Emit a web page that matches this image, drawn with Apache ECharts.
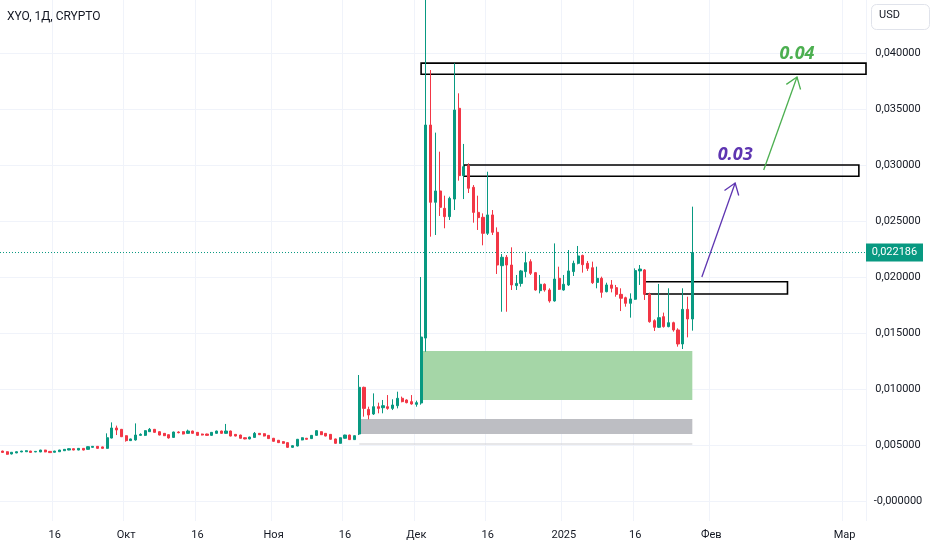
<!DOCTYPE html>
<html><head><meta charset="utf-8">
<script src="https://cdn.jsdelivr.net/npm/echarts@6/dist/echarts.min.js"></script>
<style>html,body{margin:0;padding:0;background:#fff}#c{width:932px;height:550px}</style>
</head><body><div id="c"></div>
<script>
// ---- categories / ticks ----
const startDate = [2024, 8, 5];   // 5 Sep 2024 (month 0-based)
const dayCount = 182;
const monthNames = ['Янв','Фев','Мар','Апр','Май','Июн','Июл','Авг','Сен','Окт','Ноя','Дек'];
const hiddenTickDates = ['2025-02-16'];
const priceMin = -0.005, priceMax = 0.045, priceStep = 0.005;

// ---- candles: [open, close, low, high] ----
const sepCandles = [
 [0.00446,0.00434,0.00430,0.00449],[0.00440,0.00417,0.00413,0.00443],[0.00420,0.00435,0.00416,0.00437],
 [0.00429,0.00440,0.00427,0.00442],[0.00438,0.00446,0.00436,0.00448],[0.00440,0.00449,0.00438,0.00452],
 [0.00446,0.00434,0.00432,0.00448],[0.00438,0.00443,0.00436,0.00445],[0.00438,0.00455,0.00436,0.00457],
 [0.00455,0.00438,0.00436,0.00457],[0.00443,0.00432,0.00430,0.00446],[0.00435,0.00446,0.00433,0.00448],
 [0.00440,0.00455,0.00438,0.00457],[0.00449,0.00461,0.00447,0.00464],[0.00455,0.00467,0.00453,0.00470],
 [0.00467,0.00455,0.00453,0.00470],[0.00455,0.00470,0.00453,0.00473],[0.00470,0.00455,0.00452,0.00472],
 [0.00461,0.00485,0.00459,0.00488],[0.00479,0.00488,0.00476,0.00491],[0.00488,0.00470,0.00467,0.00491],
 [0.00483,0.00470,0.00467,0.00486],[0.00470,0.00565,0.00467,0.00604],[0.00562,0.00652,0.00559,0.00702],
 [0.00652,0.00634,0.00589,0.00673],[0.00640,0.00574,0.00571,0.00643]
];
const octCandles = [
 [0.00583,0.00539,0.00530,0.00586],[0.00539,0.00554,0.00536,0.00557],[0.00545,0.00589,0.00539,0.00693],
 [0.00586,0.00595,0.00583,0.00604],[0.00586,0.00628,0.00580,0.00631],[0.00619,0.00640,0.00616,0.00652],
 [0.00640,0.00613,0.00610,0.00643],[0.00619,0.00589,0.00586,0.00622],[0.00604,0.00583,0.00580,0.00607],
 [0.00592,0.00563,0.00557,0.00595],[0.00568,0.00616,0.00565,0.00619],[0.00616,0.00610,0.00604,0.00622],
 [0.00619,0.00598,0.00595,0.00622],[0.00604,0.00625,0.00601,0.00637],[0.00625,0.00604,0.00601,0.00628],
 [0.00613,0.00586,0.00583,0.00616],[0.00598,0.00589,0.00586,0.00601],[0.00598,0.00586,0.00583,0.00601],
 [0.00586,0.00613,0.00583,0.00616],[0.00604,0.00625,0.00601,0.00628],[0.00625,0.00604,0.00601,0.00628],
 [0.00604,0.00625,0.00601,0.00688],[0.00625,0.00580,0.00577,0.00628],[0.00595,0.00580,0.00577,0.00598],
 [0.00589,0.00560,0.00557,0.00592],[0.00565,0.00554,0.00551,0.00568],[0.00554,0.00571,0.00551,0.00574],
 [0.00568,0.00604,0.00565,0.00616],[0.00604,0.00592,0.00589,0.00607],[0.00601,0.00580,0.00577,0.00604],
 [0.00586,0.00557,0.00554,0.00589]
];
const novCandles = [
 [0.00560,0.00533,0.00530,0.00563],[0.00542,0.00521,0.00518,0.00545],[0.00530,0.00515,0.00512,0.00533],
 [0.00521,0.00479,0.00476,0.00524],[0.00479,0.00494,0.00476,0.00497],[0.00491,0.00551,0.00488,0.00554],
 [0.00545,0.00565,0.00542,0.00568],[0.00560,0.00551,0.00548,0.00563],[0.00557,0.00586,0.00554,0.00589],
 [0.00586,0.00628,0.00583,0.00631],[0.00619,0.00592,0.00589,0.00622],[0.00604,0.00580,0.00577,0.00607],
 [0.00595,0.00551,0.00548,0.00598],[0.00554,0.00515,0.00512,0.00557],[0.00515,0.00565,0.00512,0.00568],
 [0.00560,0.00589,0.00557,0.00592],[0.00589,0.00548,0.00545,0.00592],[0.00548,0.00583,0.00545,0.00586],
 [0.00598,0.01015,0.00589,0.01125],[0.01015,0.00827,0.00753,0.01021],[0.00818,0.00768,0.00729,0.00842],
 [0.00777,0.00842,0.00768,0.00961],[0.00842,0.00827,0.00783,0.00878],[0.00833,0.00851,0.00783,0.00902],
 [0.00842,0.00827,0.00815,0.00946],[0.00827,0.00857,0.00812,0.00908],[0.00851,0.00917,0.00827,0.00976],
 [0.00917,0.00887,0.00881,0.00932],[0.00902,0.00878,0.00872,0.00908],[0.00887,0.00866,0.00860,0.00946]
];
const decCandles = [
 [0.00863,0.00878,0.00842,0.00896],[0.00875,0.01464,0.00860,0.02000],[0.01455,0.03357,0.01333,0.04700],
 [0.03357,0.02667,0.02360,0.03848],[0.02667,0.02768,0.02375,0.03289],[0.02768,0.02622,0.02545,0.03119],
 [0.02613,0.02539,0.02435,0.02726],[0.02539,0.02702,0.02509,0.02717],[0.02696,0.03491,0.02598,0.03908],
 [0.03506,0.02905,0.02860,0.03640],[0.02905,0.02985,0.02696,0.03188],[0.02994,0.02792,0.02750,0.03015],
 [0.02801,0.02577,0.02485,0.02821],[0.02577,0.02530,0.02420,0.02726],[0.02533,0.02390,0.02283,0.02568],
 [0.02390,0.02554,0.02375,0.02940],[0.02554,0.02399,0.02375,0.02598],[0.02399,0.02107,0.02027,0.02443],
 [0.02101,0.02176,0.01690,0.02205],[0.02176,0.02107,0.01690,0.02196],[0.02107,0.01929,0.01884,0.02265],
 [0.01923,0.01943,0.01884,0.02018],[0.01943,0.02054,0.01914,0.02063],[0.02048,0.02128,0.01997,0.02226],
 [0.02137,0.02033,0.02018,0.02158],[0.02039,0.01884,0.01878,0.02045],[0.01878,0.01935,0.01854,0.02018],
 [0.01935,0.01884,0.01869,0.01943],[0.01884,0.01786,0.01771,0.01899],[0.01786,0.01982,0.01780,0.02300],
 [0.01988,0.01890,0.01884,0.02092]
];
const janCandles = [
 [0.01884,0.01935,0.01878,0.02018],[0.01929,0.02054,0.01920,0.02241],[0.02048,0.02122,0.02009,0.02146],
 [0.02122,0.02188,0.02113,0.02277],[0.02193,0.02110,0.02039,0.02199],[0.02122,0.02077,0.02054,0.02143],
 [0.02083,0.01949,0.01938,0.02137],[0.01952,0.01988,0.01899,0.02092],[0.01988,0.01863,0.01815,0.02003],
 [0.01869,0.01929,0.01863,0.01949],[0.01929,0.01899,0.01863,0.01973],[0.01905,0.01845,0.01824,0.01929],
 [0.01845,0.01810,0.01696,0.01899],[0.01815,0.01765,0.01735,0.01824],[0.01765,0.01804,0.01637,0.01854],
 [0.01801,0.02057,0.01795,0.02077],[0.02054,0.02071,0.01929,0.02107],[0.02063,0.01845,0.01795,0.02071],
 [0.01848,0.01601,0.01592,0.01860],[0.01610,0.01551,0.01518,0.01622],[0.01551,0.01637,0.01545,0.01938],
 [0.01646,0.01557,0.01548,0.01682],[0.01557,0.01592,0.01551,0.01899],[0.01592,0.01527,0.01512,0.01601],
 [0.01527,0.01402,0.01378,0.01542],[0.01402,0.01711,0.01357,0.01899],[0.01711,0.01625,0.01461,0.01824],
 [0.01625,0.022186,0.01521,0.02628]
];
const lastPrice = 0.022186;

// ---- drawings (data space): [fromDate, toDate|null(=edge), low, high] ----
const demandZones = [['2024-12-02','2025-01-28',0.00902,0.01339]];
const baseZones   = [['2024-11-19','2025-01-28',0.00598,0.00732]];
const supportLines = [['2024-11-19','2025-01-28',0.00509]];
const targetBoxes = [
 ['2024-12-02', null, 0.0381, 0.0391],
 ['2024-12-11','2025-03-04',0.0290,0.0300],
 ['2025-01-18','2025-02-17',0.01848,0.01958]
];
const arrowsPurple = [[['2025-01-30',0.0200],['2025-02-06',0.02839]]];
const arrowsGreen  = [[['2025-02-12',0.02955],['2025-02-19',0.03786]]];
const targetLabels = [['2025-02-06',0.03089,'0.03'],['2025-02-19',0.03996,'0.04']];

// ---- build ----
const categories = [];
for (let i = 0; i < dayCount; i++) {
  const d = new Date(Date.UTC(startDate[0], startDate[1], startDate[2] + i));
  categories.push(d.toISOString().slice(0, 10));
}
const candles = [].concat(sepCandles, octCandles, novCandles, decCandles, janCandles);
const ci = d => categories.indexOf(d);
const fmtPrice = v => v.toFixed(6).replace('.', ',');

const UP = '#089981', DOWN = '#F23645', TXT = '#131722';
const PURPLE = '#5e35b1', GREEN = '#4caf50';

const showTick = (idx, val) => {
  const dd = val.slice(8);
  return (dd === '01' || dd === '16') && hiddenTickDates.indexOf(val) < 0;
};
const tickLabel = val => {
  const p = val.split('-');
  if (p[2] === '16') return '16';
  if (p[1] === '01') return p[0];
  return monthNames[+p[1] - 1];
};

function rectItem(list, fill, stroke) {
  return function (params, api) {
    const z = list[params.dataIndex];
    const a = api.coord([ci(z[0]), z[3]]);
    const b = api.coord([ci(z[0]), z[2]]);
    let x2;
    if (z[1] == null) x2 = params.coordSys.x + params.coordSys.width;
    else x2 = api.coord([ci(z[1]), z[2]])[0];
    return {
      type: 'rect',
      shape: { x: a[0], y: a[1], width: x2 - a[0], height: b[1] - a[1] },
      style: stroke ? { fill: 'none', stroke: stroke, lineWidth: 1.6 } : { fill: fill }
    };
  };
}
function arrowItem(list, color) {
  return function (params, api) {
    const s = list[params.dataIndex];
    const a = api.coord([ci(s[0][0]), s[0][1]]);
    const b = api.coord([ci(s[1][0]), s[1][1]]);
    const ang = Math.atan2(b[1] - a[1], b[0] - a[0]);
    const L = 13, sp = 0.62;
    const w1 = [b[0] - L * Math.cos(ang - sp), b[1] - L * Math.sin(ang - sp)];
    const w2 = [b[0] - L * Math.cos(ang + sp), b[1] - L * Math.sin(ang + sp)];
    return {
      type: 'group', children: [
        { type: 'line', shape: { x1: a[0], y1: a[1], x2: b[0], y2: b[1] }, style: { stroke: color, lineWidth: 1.3 } },
        { type: 'polyline', shape: { points: [w1, b, w2] }, style: { stroke: color, lineWidth: 1.3, fill: null } }
      ]
    };
  };
}

const chart = echarts.init(document.getElementById('c'), null, { renderer: 'canvas' });
chart.setOption({
  animation: false,
  backgroundColor: '#ffffff',
  title: { text: 'XYO, 1Д, CRYPTO', left: 7, top: 11, padding: 0,
    textStyle: { fontSize: 12, fontWeight: 'normal', color: TXT, fontFamily: 'Roboto' } },
  graphic: [
    { type: 'rect', left: 871, top: 4, shape: { width: 58, height: 25, r: 5 },
      style: { fill: '#fff', stroke: '#e0e3eb', lineWidth: 1 } },
    { type: 'text', left: 879, top: 10, style: { text: 'USD', fill: TXT, font: '11px Roboto' } }
  ],
  grid: [
    { left: 0, right: 66, top: -3, bottom: -7, containLabel: false, outerBoundsMode: 'none' },
    { left: 0, right: 66, top: 0, bottom: 29, containLabel: false, outerBoundsMode: 'none' }
  ],
  xAxis: [
    { type: 'category', gridIndex: 0, data: categories, boundaryGap: true, show: false },
    { type: 'category', gridIndex: 1, data: categories, boundaryGap: true,
      axisLine: { show: false }, axisTick: { show: false },
      axisLabel: { interval: showTick, formatter: tickLabel, color: TXT, fontSize: 11, margin: 9, fontFamily: 'Roboto' },
      splitLine: { show: true, interval: showTick, lineStyle: { color: '#f0f3fa', width: 1 } } }
  ],
  yAxis: [
    { type: 'value', gridIndex: 0, position: 'right', min: priceMin, max: priceMax, interval: priceStep,
      axisLine: { show: false }, axisTick: { show: false },
      axisLabel: { color: TXT, fontSize: 11, fontFamily: 'Roboto', align: 'center', margin: 32,
        formatter: v => (v < -0.0001 || v > 0.0449) ? '' : (Math.abs(v) < 1e-9 ? '-0,000000' : fmtPrice(v)) },
      splitLine: { show: true, lineStyle: { color: '#f0f3fa', width: 1 } } },
    { type: 'value', gridIndex: 1, show: false, min: 0, max: 1, splitLine: { show: false } }
  ],
  series: [
    { type: 'custom', xAxisIndex: 0, yAxisIndex: 0, z: 1, silent: true,
      renderItem: rectItem(demandZones, '#a5d6a7'),
      data: demandZones.map(z => [ci(z[0]), z[2]]) },
    { type: 'custom', xAxisIndex: 0, yAxisIndex: 0, z: 1, silent: true,
      renderItem: rectItem(baseZones, '#bdbec3'),
      data: baseZones.map(z => [ci(z[0]), z[2]]) },
    { type: 'custom', xAxisIndex: 0, yAxisIndex: 0, z: 1, silent: true,
      renderItem: function (params, api) {
        const s = supportLines[params.dataIndex];
        const a = api.coord([ci(s[0]), s[2]]), b = api.coord([ci(s[1]), s[2]]);
        return { type: 'line', shape: { x1: a[0], y1: a[1], x2: b[0], y2: b[1] }, style: { stroke: '#cfd0d4', lineWidth: 1.2 } };
      },
      data: supportLines.map(z => [ci(z[0]), z[2]]) },
    { type: 'custom', xAxisIndex: 0, yAxisIndex: 0, z: 1, silent: true,
      renderItem: rectItem(targetBoxes, null, '#000000'),
      data: targetBoxes.map(z => [ci(z[0]), z[2]]) },
    // last price line + price-scale label
    { type: 'custom', xAxisIndex: 0, yAxisIndex: 0, z: 1, silent: true, clip: false,
      renderItem: function (params, api) {
        const y = api.coord([0, lastPrice])[1];
        const x0 = params.coordSys.x, x1 = params.coordSys.x + params.coordSys.width;
        return { type: 'group', children: [
          { type: 'line', shape: { x1: x0, y1: y, x2: x1, y2: y },
            style: { stroke: UP, lineWidth: 1, lineDash: [1, 2] } },
          { type: 'rect', shape: { x: x1, y: y - 9, width: 57, height: 18 }, style: { fill: UP } },
          { type: 'text', x: x1 + 28.5, y: y, style: { text: fmtPrice(lastPrice), fill: '#ffffff',
            font: '11px Roboto', align: 'center', verticalAlign: 'middle' } }
        ] };
      },
      data: [[0, lastPrice]] },
    { type: 'candlestick', xAxisIndex: 0, yAxisIndex: 0, z: 2, data: candles, barWidth: 2.6,
      itemStyle: { color: UP, color0: DOWN, borderColor: UP, borderColor0: DOWN, borderWidth: 1 } },
    { type: 'custom', xAxisIndex: 0, yAxisIndex: 0, z: 5, silent: true,
      renderItem: arrowItem(arrowsPurple, PURPLE),
      data: arrowsPurple.map(s => [ci(s[0][0]), s[0][1]]) },
    { type: 'custom', xAxisIndex: 0, yAxisIndex: 0, z: 5, silent: true,
      renderItem: arrowItem(arrowsGreen, GREEN),
      data: arrowsGreen.map(s => [ci(s[0][0]), s[0][1]]) },
    { type: 'custom', xAxisIndex: 0, yAxisIndex: 0, z: 5, silent: true,
      renderItem: function (params, api) {
        const t = targetLabels[params.dataIndex];
        const p = api.coord([ci(t[0]), t[1]]);
        return { type: 'text', x: p[0], y: p[1],
          style: { text: t[2], fill: params.dataIndex === 0 ? PURPLE : GREEN,
            font: 'italic bold 18px "Noto Sans"', align: 'center', verticalAlign: 'middle' } };
      },
      data: targetLabels.map(t => [ci(t[0]), t[1]]) }
  ]
});
</script></body></html>
